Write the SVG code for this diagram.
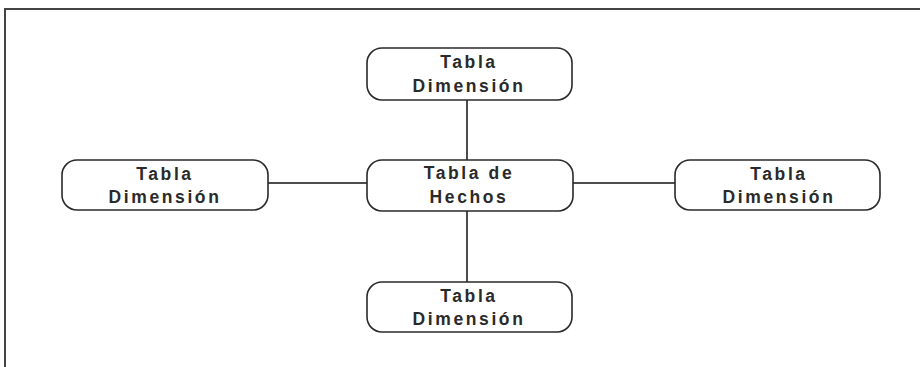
<svg xmlns="http://www.w3.org/2000/svg" width="920" height="367" viewBox="0 0 920 367">
  <style>
    .frame { fill: none; stroke: #444; stroke-width: 2; }
    .box { fill: #fff; stroke: #2a2a2a; stroke-width: 1.6; }
    .lbl { font-family: "Liberation Sans", Arial, sans-serif; font-size: 17.5px; font-weight: bold; fill: #2a2a2a; letter-spacing: 2.6px; text-anchor: middle; }
    .link { stroke: #111; stroke-width: 1.5; fill: none; }
  </style>
  <rect width="920" height="367" fill="#fff"/>
  <!-- page frame: top and left edges -->
  <path class="frame" d="M5 367 V9 H920"/>

  <g id="connectors">
    <line class="link" x1="467" y1="100" x2="467" y2="160"/>
    <line class="link" x1="467" y1="211" x2="467" y2="282"/>
    <line class="link" x1="268" y1="183" x2="367" y2="183"/>
    <line class="link" x1="573" y1="183" x2="675" y2="183"/>
  </g>

  <g id="dim-top">
    <rect class="box" x="367" y="48" width="205" height="52" rx="15" ry="15"/>
    <text class="lbl" x="469" y="68">Tabla</text>
    <text class="lbl" x="469" y="92">Dimensión</text>
  </g>

  <g id="fact">
    <rect class="box" x="367" y="160" width="206" height="51" rx="15" ry="15"/>
    <text class="lbl" x="469" y="179">Tabla de</text>
    <text class="lbl" x="469" y="203">Hechos</text>
  </g>

  <g id="dim-left">
    <rect class="box" x="62" y="160" width="206" height="50" rx="15" ry="15"/>
    <text class="lbl" x="165" y="180">Tabla</text>
    <text class="lbl" x="165" y="203">Dimensión</text>
  </g>

  <g id="dim-right">
    <rect class="box" x="675" y="160" width="205" height="50" rx="15" ry="15"/>
    <text class="lbl" x="779" y="180">Tabla</text>
    <text class="lbl" x="779" y="203">Dimensión</text>
  </g>

  <g id="dim-bottom">
    <rect class="box" x="367" y="282" width="205" height="50" rx="15" ry="15"/>
    <text class="lbl" x="469" y="302">Tabla</text>
    <text class="lbl" x="469" y="325">Dimensión</text>
  </g>
</svg>
